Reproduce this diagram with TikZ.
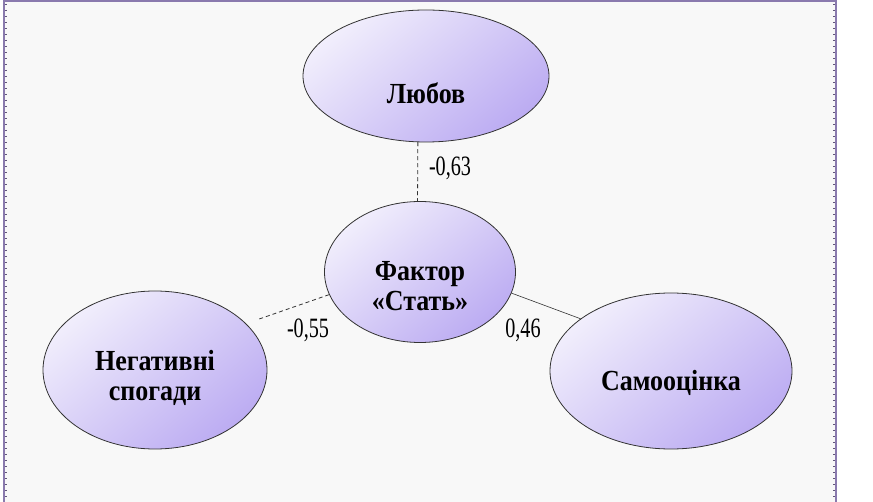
\documentclass[tikz,border=0pt]{standalone}
\usepackage{fontspec}
\setmainfont{Liberation Serif}
\usetikzlibrary{shapes.geometric,calc}
\definecolor{bglight}{HTML}{F8F8F8}
\definecolor{framecol}{HTML}{8A7AAE}
\definecolor{filllight}{HTML}{F1EEFC}
\definecolor{filldark}{HTML}{BCACF2}
\tikzset{
  bubble/.style={ellipse, draw=black!80, line width=0.8pt, inner sep=0pt,
    top color=filllight, bottom color=filldark, shading angle=40},
  nodetxt/.style={font=\fontsize{26}{27}\selectfont\bfseries, align=center, inner sep=0pt, yscale=1.12},
  coef/.style={font=\fontsize{28}{30}\selectfont, xscale=0.72, inner sep=0pt},
  link/.style={draw=black!80, line width=0.8pt},
  dlink/.style={link, dash pattern=on 4pt off 3pt},
}
\begin{document}
\begin{tikzpicture}[x=1pt,y=-1pt]
\useasboundingbox (0,0) rectangle (873,502);
\fill[white] (0,0) rectangle (873,502);
\fill[bglight] (4,1) rectangle (836,502);
\draw[framecol, line width=1.2pt] (4,502) -- (4,1) -- (836,1) -- (836,502);
\draw[framecol!70!black, line width=1.2pt, dash pattern=on 1pt off 5pt] (6,4) -- (6,502);
\draw[framecol!70!black, line width=1.2pt, dash pattern=on 1pt off 5pt] (834,4) -- (834,502);

\node[bubble, minimum width=246pt, minimum height=132pt] (lub) at (426,76) {};
\node[bubble, minimum width=191pt, minimum height=141pt] (fak) at (420,272) {};
\node[bubble, minimum width=224pt, minimum height=158pt] (neg) at (155,370) {};
\node[bubble, minimum width=242pt, minimum height=156pt] (sam) at (671,371) {};

\node[nodetxt] (tlub) at ($(lub)+(0,17)$) {Любов};
\node[nodetxt] (tfak) at ($(fak)+(0,14)$) {Фактор\\«Стать»};
\node[nodetxt] (tneg) at ($(neg)+(0,8)$) {Негативні\\спогади};
\node[nodetxt] (tsam) at ($(sam)+(0,12)$) {Самооцінка};

\draw[dlink] (lub.263) -- (fak.92);
\draw[dlink, shorten >=11pt] (fak.194) -- (neg.27);
\draw[link, line width=0.6pt] (fak.-13) -- (sam.150);

\node[coef] (c1) at (450,168) {-0,63};
\node[coef] (c2) at (308,330) {-0,55};
\node[coef] (c3) at (523,330) {0,46};
\end{tikzpicture}
\end{document}
